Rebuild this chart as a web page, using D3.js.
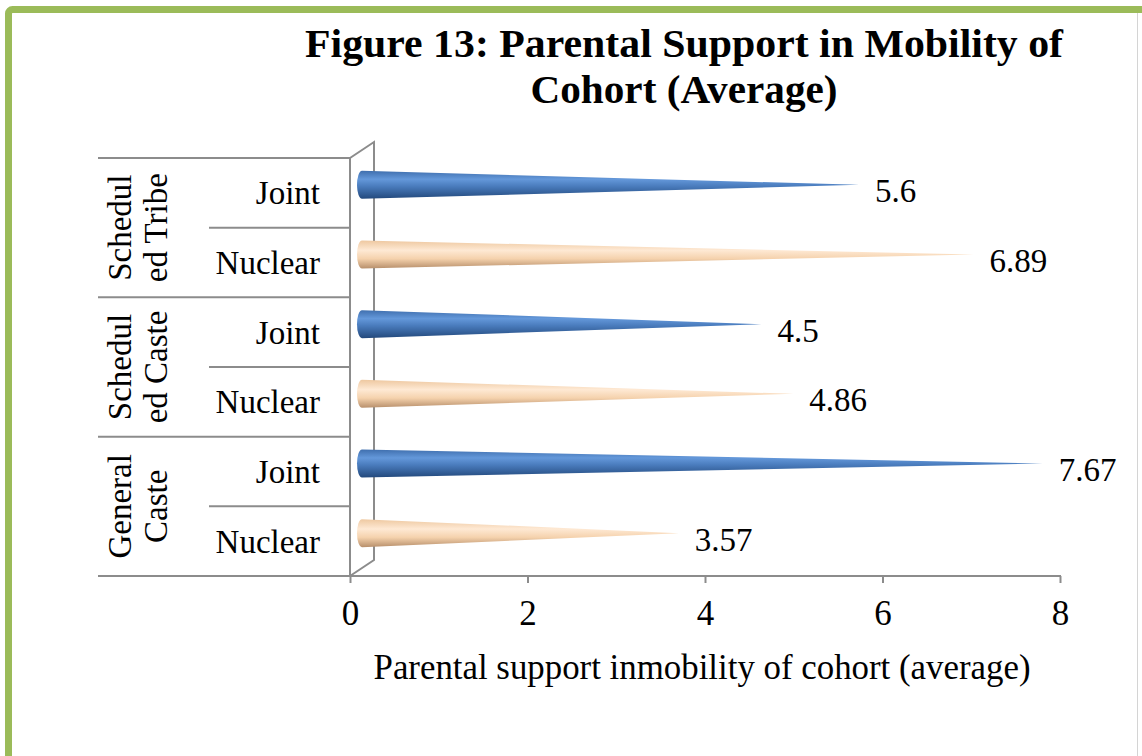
<!DOCTYPE html>
<meta charset="utf-8">
<html>
    <head>
        <title>Figure 13</title>
        <style>
            body { margin: 0; background: #fff; }
            text { font-family: "Liberation Serif", "Times New Roman", serif; fill: #000; }
        </style>
    </head>
    <body>
        <div id="viz"></div>

        <script src="https://cdnjs.cloudflare.com/ajax/libs/d3/7.8.5/d3.min.js"></script>
        <script>
            // chart values, top row first
            var groups = ["Scheduled Tribe", "Scheduled Caste", "General Caste"];
            var groupLines = [["Schedul", "ed Tribe"], ["Schedul", "ed Caste"], ["General", "Caste"]];
            var types = ["Joint", "Nuclear"];
            var jointValues = [5.6, 4.5, 7.67];
            var nuclearValues = [6.89, 4.86, 3.57];
            var xTicks = [0, 2, 4, 6, 8];
            var titleLines = ["Figure 13: Parental Support in Mobility of", "Cohort (Average)"];
            var axisTitle = "Parental support inmobility of cohort (average)";

            var rows = [];
            groups.forEach(function (g, i) {
                rows.push({group: g, type: types[0], value: jointValues[i], key: g + "|" + types[0]});
                rows.push({group: g, type: types[1], value: nuclearValues[i], key: g + "|" + types[1]});
            });

            var W = 1142, H = 756;
            var svg = d3.select("#viz").append("svg")
                .attr("width", W)
                .attr("height", H);

            // green frame
            svg.append("rect")
                .attr("x", 8.5).attr("y", 9.5)
                .attr("width", W + 20).attr("height", H + 20)
                .attr("rx", 4)
                .attr("fill", "none")
                .attr("stroke", "#9bbb59")
                .attr("stroke-width", 7);
            svg.append("line")
                .attr("x1", 1137.5).attr("x2", 1137.5)
                .attr("y1", 13).attr("y2", H)
                .attr("stroke", "#d4d4d4").attr("stroke-width", 1);

            var x = d3.scaleLinear().domain([0, 8]).range([350, 1060]);
            var y = d3.scaleBand().domain(rows.map(function (d) { return d.key; })).range([158, 576]);
            var depthX = 24, depthY = 16;
            var axisColor = "#8c8c8c";

            // gradients
            var defs = svg.append("defs");
            var grads = {
                Joint: [["0", "#3f6fae"], ["0.3", "#6498da"], ["0.55", "#4a7cbd"], ["1", "#23497c"]],
                Nuclear: [["0", "#eec8a0"], ["0.35", "#fee9d4"], ["0.65", "#f5d2ad"], ["1", "#b78f6b"]]
            };
            Object.keys(grads).forEach(function (k) {
                var lg = defs.append("linearGradient")
                    .attr("id", "g" + k)
                    .attr("x1", 0).attr("y1", 0).attr("x2", 0).attr("y2", 1);
                grads[k].forEach(function (s) {
                    lg.append("stop").attr("offset", s[0]).attr("stop-color", s[1]);
                });
            });

            // title
            svg.selectAll(".title")
                .data(titleLines)
                .enter()
                .append("text")
                .attr("class", "title")
                .attr("x", 684)
                .attr("y", function (d, i) { return 57 + i * 46; })
                .attr("text-anchor", "middle")
                .attr("font-weight", "bold")
                .attr("font-size", 41)
                .attr("textLength", function (d, i) { return i == 0 ? 758 : 307; })
                .attr("lengthAdjust", "spacingAndGlyphs")
                .text(function (d) { return d; });

            // 3D walls
            var plotTop = y.range()[0], plotBottom = y.range()[1];
            var walls = svg.append("g")
                .attr("stroke", axisColor)
                .attr("stroke-width", 2)
                .attr("fill", "none");
            walls.append("path")
                .attr("d", "M" + x(0) + "," + plotTop + "L" + (x(0) + depthX) + "," + (plotTop - depthY) +
                    "L" + (x(0) + depthX) + "," + (plotBottom - depthY) + "L" + x(0) + "," + plotBottom);
            walls.append("line")
                .attr("x1", x(0)).attr("x2", x(0))
                .attr("y1", plotTop).attr("y2", plotBottom);

            // category table lines
            var tableLeft = 98, subLeft = 209;
            var lines = [];
            rows.forEach(function (d, i) {
                lines.push({y: y(d.key), x1: i % 2 == 0 ? tableLeft : subLeft});
            });
            walls.selectAll(".row")
                .data(lines)
                .enter()
                .append("line")
                .attr("x1", function (d) { return d.x1; })
                .attr("x2", x(0))
                .attr("y1", function (d) { return d.y; })
                .attr("y2", function (d) { return d.y; });

            // x axis
            var axis = svg.append("g")
                .attr("transform", "translate(0," + plotBottom + ")")
                .call(d3.axisBottom(x).tickValues(xTicks).tickSize(7).tickPadding(17).tickFormat(d3.format("d")));
            axis.select(".domain").remove();
            axis.selectAll(".tick line").attr("stroke", axisColor).attr("stroke-width", 2);
            axis.selectAll(".tick text")
                .attr("font-family", "Liberation Serif, Times New Roman, serif")
                .attr("font-size", 35)
                .attr("fill", "#000");
            svg.append("line")
                .attr("x1", tableLeft).attr("x2", x(8) + 1)
                .attr("y1", plotBottom).attr("y2", plotBottom)
                .attr("stroke", axisColor).attr("stroke-width", 2);

            svg.append("text")
                .attr("x", 702)
                .attr("y", 679)
                .attr("text-anchor", "middle")
                .attr("font-size", 36)
                .attr("textLength", 657)
                .attr("lengthAdjust", "spacingAndGlyphs")
                .text(axisTitle);

            // row labels
            svg.selectAll(".cat")
                .data(rows)
                .enter()
                .append("text")
                .attr("class", "cat")
                .attr("x", 320)
                .attr("y", function (d) { return y(d.key) + y.bandwidth() / 2; })
                .attr("dy", "0.35em")
                .attr("text-anchor", "end")
                .attr("font-size", 33)
                .text(function (d) { return d.type; });

            // group labels, rotated
            var gl = svg.selectAll(".grp")
                .data(groups)
                .enter()
                .append("text")
                .attr("class", "grp")
                .attr("font-size", 33)
                .attr("text-anchor", "middle")
                .attr("transform", function (d) {
                    var cy = y(d + "|" + types[0]) + y.bandwidth();
                    return "translate(138," + cy + ") rotate(-90)";
                });
            gl.selectAll("tspan")
                .data(function (d, i) { return groupLines[i]; })
                .enter()
                .append("tspan")
                .attr("x", 0)
                .attr("y", function (d, i) { return i == 0 ? -7 : 29; })
                .text(function (d) { return d; });

            // cone bars
            var barH = 28, rx = 5;
            svg.selectAll(".cone")
                .data(rows)
                .enter()
                .append("path")
                .attr("class", "cone")
                .attr("fill", function (d) { return "url(#g" + d.type + ")"; })
                .attr("d", function (d) {
                    var cy = y(d.key) + y.bandwidth() / 2 - depthY / 2;
                    var x0 = x(0) + depthX / 2;
                    var x1 = x(d.value) + depthX / 2;
                    return "M" + x1 + "," + cy +
                        "L" + x0 + "," + (cy - barH / 2) +
                        "A" + rx + "," + (barH / 2) + " 0 0 0 " + x0 + "," + (cy + barH / 2) + "Z";
                });

            // value labels
            svg.selectAll(".val")
                .data(rows)
                .enter()
                .append("text")
                .attr("class", "val")
                .attr("x", function (d) { return x(d.value) + depthX / 2 + 16; })
                .attr("y", function (d) { return y(d.key) + y.bandwidth() / 2 - 2; })
                .attr("dy", "0.35em")
                .attr("font-size", 33)
                .text(function (d) { return d.value; });
        </script>
    </body>
</html>
